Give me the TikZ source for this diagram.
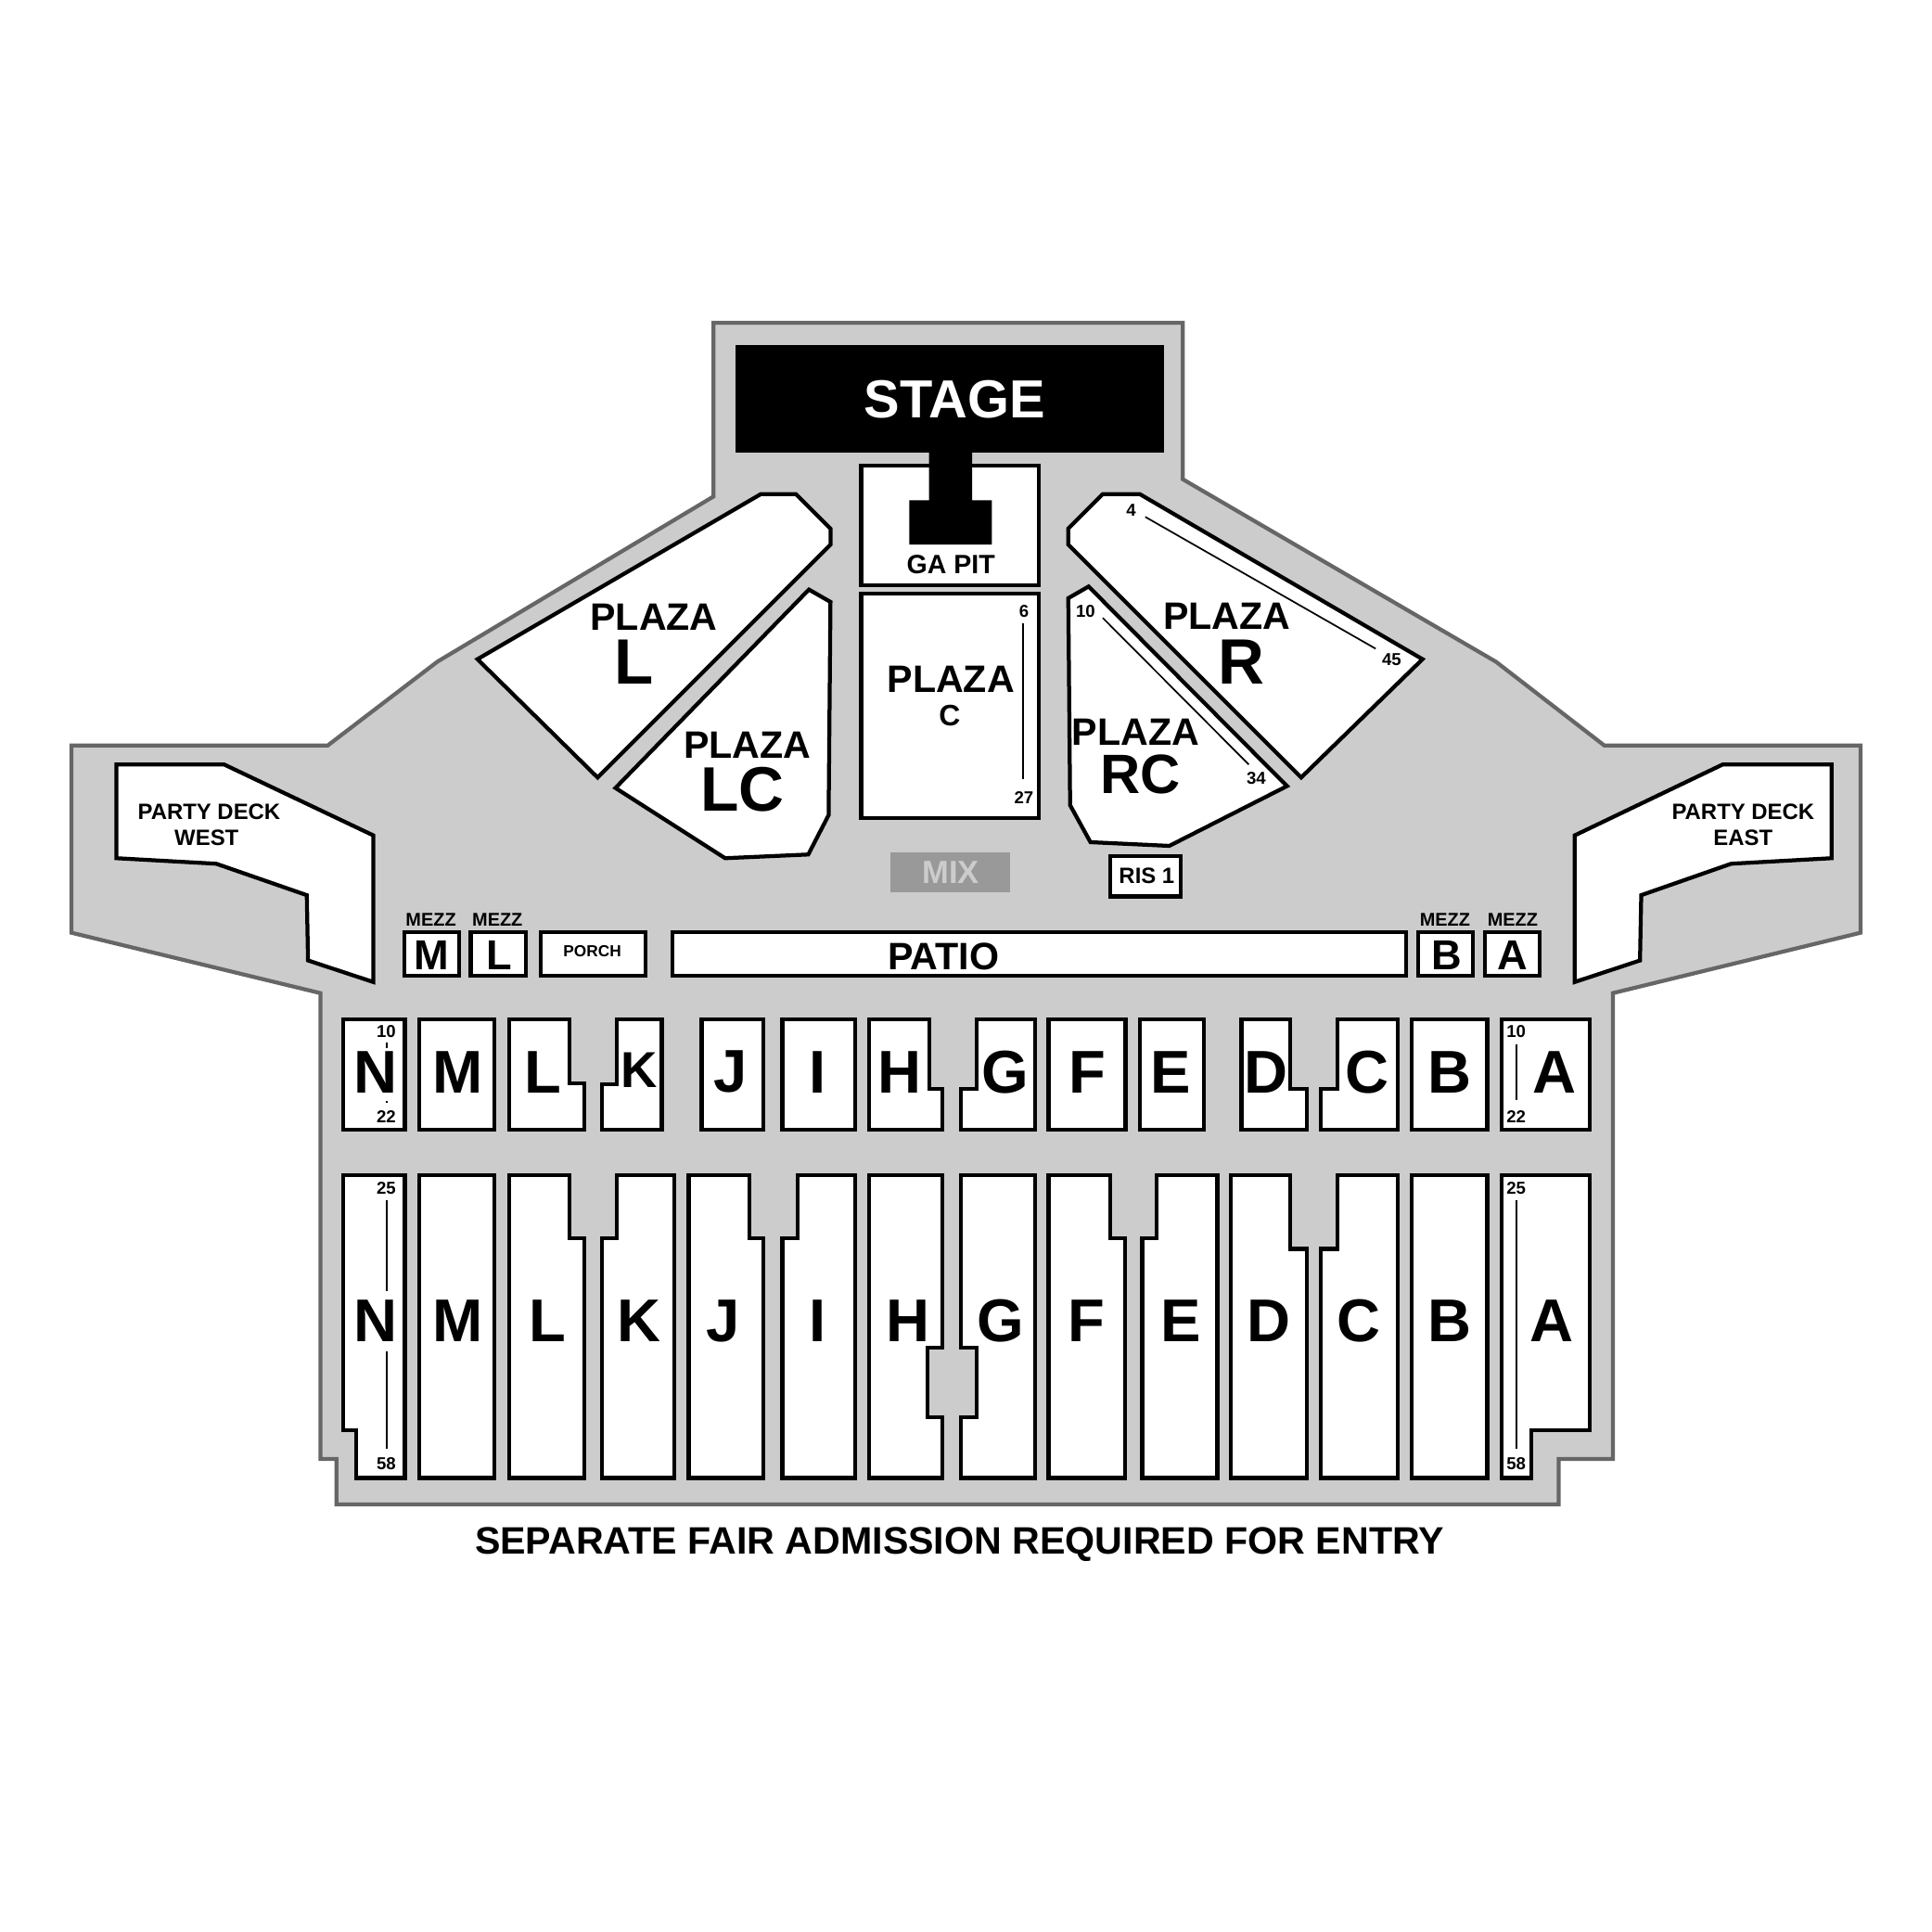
\documentclass[tikz,border=0pt]{standalone}
\usepackage{fontspec}
\setmainfont{Liberation Sans}
\newcommand{\sized}[1]{\fontsize{#1}{#1}\selectfont\bfseries}
\tikzset{
	hall/.style={draw=black!60,fill=black!20,line width=3.2pt},
	seat/.style={draw=black,fill=white,line width=3.2pt},
	rowline/.style={draw=black,line width=1.3pt},
	txt/.style={inner sep=0pt,xshift=0.7pt,font=\sized{#1}},
	num/.style={inner sep=0pt,xshift=0.5pt,font=\sized{14}}
}
\begin{document}
\begin{tikzpicture}[x=1pt,y=-1pt]
	\path[use as bounding box,fill=white] (0,0) rectangle (1568,1568);
	\draw[hall] (579,262) -- (960,262) -- (960,389) -- (1214,537) -- (1302,605) -- (1510,605) -- (1510,757) -- (1309,806) -- (1309,1184) -- (1265,1184) -- (1265,1221) -- (273,1221) -- (273,1184) -- (260,1184) -- (260,806) -- (58,757) -- (58,605) -- (266,605) -- (355,537) -- (579,403) -- cycle;
	\draw[seat] (699,378) rectangle (843,475);
	\draw[seat] (699,482) rectangle (843,664);
	\fill[black] (597,280) rectangle (945,367);
	\fill[black] (754,367) -- (789,367) -- (789,406) -- (805,406) -- (805,442) -- (738,442) -- (738,406) -- (754,406) -- cycle;
	\fill[black!40] (723,692) rectangle (820,724);
	\draw[seat] (617.5,401) -- (646,401) -- (674,429) -- (674,442) -- (485,631) -- (387.5,535) -- cycle;
	\draw[seat] (656.5,478.5) -- (674,488.5) -- (672.5,661.5) -- (656,693.5) -- (588.5,696.5) -- (499.5,639.5) -- cycle;
	\draw[seat] (895,401) -- (925,401) -- (1154.5,535) -- (1056,631) -- (867,442) -- (867,429) -- cycle;
	\draw[seat] (883.5,476) -- (1044.5,638) -- (949,686.5) -- (885,683.5) -- (868.5,653.5) -- (867,485.5) -- cycle;
	\draw[seat] (94.5,620.5) -- (182,620.5) -- (303,678) -- (303,797) -- (250,779.5) -- (249,726.5) -- (175.5,701) -- (94.5,696.5) -- cycle;
	\draw[seat] (1398,620.5) -- (1486.5,620.5) -- (1486.5,696.5) -- (1405,701) -- (1332,726.5) -- (1331,779.5) -- (1278,797) -- (1278,678) -- cycle;
	\draw[seat] (901,695) rectangle (958,727.5);
	\draw[seat] (328,756.5) rectangle (372.5,792);
	\draw[seat] (382,756.5) rectangle (427,792);
	\draw[seat] (439,756.5) rectangle (524,792);
	\draw[seat] (545.5,756.5) rectangle (1141,792);
	\draw[seat] (1151,756.5) rectangle (1195.5,792);
	\draw[seat] (1205,756.5) rectangle (1249.5,792);
	\draw[rowline] (929.5,419.5) -- (1116.5,526.5);
	\draw[rowline] (895,501.5) -- (1013.5,620.5);
	\draw[rowline] (830.5,506) -- (830.5,632.5);
	\draw[seat] (278.5,827) rectangle (328.5,917);
	\draw[seat] (340,827) rectangle (401,917);
	\draw[seat] (413,827) -- (462,827) -- (462,879) -- (474,879) -- (474,917) -- (413,917) -- cycle;
	\draw[seat] (500.5,827) -- (537,827) -- (537,917) -- (488.5,917) -- (488.5,880) -- (500.5,880) -- cycle;
	\draw[seat] (569.5,827) rectangle (619.5,917);
	\draw[seat] (635,827) rectangle (694,917);
	\draw[seat] (705.5,827) -- (754,827) -- (754,884) -- (765,884) -- (765,917) -- (705.5,917) -- cycle;
	\draw[seat] (792.5,827) -- (840,827) -- (840,917) -- (780,917) -- (780,884) -- (792.5,884) -- cycle;
	\draw[seat] (851,827) rectangle (913.5,917);
	\draw[seat] (925,827) rectangle (977,917);
	\draw[seat] (1007.5,827) -- (1047,827) -- (1047,884) -- (1060.5,884) -- (1060.5,917) -- (1007.5,917) -- cycle;
	\draw[seat] (1085.5,827) -- (1134.5,827) -- (1134.5,917) -- (1072,917) -- (1072,884) -- (1085.5,884) -- cycle;
	\draw[seat] (1145.5,827) rectangle (1207,917);
	\draw[seat] (1218.5,827) rectangle (1290,917);
	\draw[seat] (278.5,953.5) -- (328.5,953.5) -- (328.5,1199.5) -- (289,1199.5) -- (289,1161) -- (278.5,1161) -- cycle;
	\draw[seat] (340,953.5) rectangle (401,1199.5);
	\draw[seat] (413,953.5) -- (462,953.5) -- (462,1005) -- (474,1005) -- (474,1199.5) -- (413,1199.5) -- cycle;
	\draw[seat] (500.5,953.5) -- (547.5,953.5) -- (547.5,1199.5) -- (488.5,1199.5) -- (488.5,1005) -- (500.5,1005) -- cycle;
	\draw[seat] (559,953.5) -- (608,953.5) -- (608,1005) -- (619.5,1005) -- (619.5,1199.5) -- (559,1199.5) -- cycle;
	\draw[seat] (647.5,953.5) -- (694,953.5) -- (694,1199.5) -- (635,1199.5) -- (635,1005) -- (647.5,1005) -- cycle;
	\draw[seat] (705.5,953.5) -- (765,953.5) -- (765,1094) -- (753,1094) -- (753,1150) -- (765,1150) -- (765,1199.5) -- (705.5,1199.5) -- cycle;
	\draw[seat] (780,953.5) -- (840,953.5) -- (840,1199.5) -- (780,1199.5) -- (780,1150) -- (792.5,1150) -- (792.5,1094) -- (780,1094) -- cycle;
	\draw[seat] (851,953.5) -- (901,953.5) -- (901,1005) -- (913,1005) -- (913,1199.5) -- (851,1199.5) -- cycle;
	\draw[seat] (938.5,953.5) -- (988,953.5) -- (988,1199.5) -- (927,1199.5) -- (927,1005) -- (938.5,1005) -- cycle;
	\draw[seat] (999,953.5) -- (1047,953.5) -- (1047,1013.5) -- (1060.5,1013.5) -- (1060.5,1199.5) -- (999,1199.5) -- cycle;
	\draw[seat] (1085.5,953.5) -- (1134.5,953.5) -- (1134.5,1199.5) -- (1072,1199.5) -- (1072,1013.5) -- (1085.5,1013.5) -- cycle;
	\draw[seat] (1145.5,953.5) rectangle (1207,1199.5);
	\draw[seat] (1218.5,953.5) -- (1290,953.5) -- (1290,1161) -- (1243,1161) -- (1243,1199.5) -- (1218.5,1199.5) -- cycle;
	\draw[rowline] (314,846) -- (314,850.5);
	\draw[rowline] (314,893.5) -- (314,895);
	\draw[rowline] (314,974) -- (314,1047.5);
	\draw[rowline] (314,1097) -- (314,1175.5);
	\draw[rowline] (1231,847.5) -- (1231,893);
	\draw[rowline] (1231,974) -- (1231,1175.5);
	\node (Stage) at (774,324) [txt=43.5,white] {STAGE};
	\node (Pit) at (771,458) [txt=21.5] {GA PIT};
	\node (Pc) at (771,551) [txt=31] {PLAZA};
	\node (PcC) at (770,581) [txt=24] {C};
	\node (Pl) at (530,501) [txt=31] {PLAZA};
	\node (PlL) at (514,537) [txt=52] {L};
	\node (Plc) at (606,605) [txt=31] {PLAZA};
	\node (PlcL) at (602,641) [txt=51] {LC};
	\node (Pr) at (995,500) [txt=31] {PLAZA};
	\node (PrR) at (1007,537) [txt=52] {R};
	\node (Prc) at (921,594) [txt=31] {PLAZA};
	\node (PrcR) at (925,628.5) [txt=45] {RC};
	\node (West) at (169,658.5) [txt=18] {PARTY DECK};
	\node (WestB) at (167,680) [txt=18] {WEST};
	\node (East) at (1414,658.5) [txt=18] {PARTY DECK};
	\node (EastB) at (1414,680) [txt=18] {EAST};
	\node (Mix) at (771,708) [txt=26,black!20] {MIX};
	\node (Ris) at (930,711) [txt=18] {RIS 1};
	\node (Porch) at (480,772) [txt=13] {PORCH};
	\node (Patio) at (765,776) [txt=31] {PATIO};
	\node (MzM) at (349,746.5) [txt=15] {MEZZ};
	\node (MzL) at (403,746.5) [txt=15] {MEZZ};
	\node (MzB) at (1172,746.5) [txt=15] {MEZZ};
	\node (MzA) at (1227,746.5) [txt=15] {MEZZ};
	\node (MzMl) at (349.5,775.5) [txt=34] {M};
	\node (MzLl) at (404.5,775.5) [txt=34] {L};
	\node (MzBl) at (1173.5,775.5) [txt=34] {B};
	\node (MzAl) at (1227,775.5) [txt=34] {A};
	\node (R4) at (917.5,414) [num] {4};
	\node (R45) at (1129,535) [num] {45};
	\node (Rc10) at (880.5,496) [num] {10};
	\node (Rc34) at (1019,632) [num] {34};
	\node (C6) at (830.5,496) [num] {6};
	\node (C27) at (830.5,647) [num] {27};
	\node (Na) at (313,837) [num] {10};
	\node (Nb) at (313,906) [num] {22};
	\node (Nc) at (313,964) [num] {25};
	\node (Nd) at (313,1188) [num] {58};
	\node (Aa) at (1230,837) [num] {10};
	\node (Ab) at (1230,906) [num] {22};
	\node (Ac) at (1230,964) [num] {25};
	\node (Ad) at (1230,1188) [num] {58};
	\node (N1) at (304,870) [txt=49] {N};
	\node (M1) at (370.5,870) [txt=49] {M};
	\node (L1) at (440,870) [txt=49] {L};
	\node (K1) at (518,868.5) [txt=41] {K};
	\node (J1) at (592.5,870) [txt=49] {J};
	\node (I1) at (663,870) [txt=49] {I};
	\node (H1) at (729.5,870) [txt=49] {H};
	\node (G1) at (815,870) [txt=49] {G};
	\node (F1) at (882,870) [txt=49] {F};
	\node (E1) at (949.5,870) [txt=49] {E};
	\node (D1) at (1027,870) [txt=49] {D};
	\node (C1) at (1109,870) [txt=49] {C};
	\node (B1) at (1176,870) [txt=49] {B};
	\node (A1) at (1261,870) [txt=49] {A};
	\node (N2) at (304,1072) [txt=49] {N};
	\node (M2) at (370.5,1072) [txt=49] {M};
	\node (L2) at (443.5,1072) [txt=49] {L};
	\node (K2) at (518,1072) [txt=49] {K};
	\node (J2) at (586,1072) [txt=49] {J};
	\node (I2) at (663,1072) [txt=49] {I};
	\node (H2) at (736,1072) [txt=49] {H};
	\node (G2) at (811.5,1072) [txt=49] {G};
	\node (F2) at (881,1072) [txt=49] {F};
	\node (E2) at (957.5,1072) [txt=49] {E};
	\node (D2) at (1029,1072) [txt=49] {D};
	\node (C2) at (1102,1072) [txt=49] {C};
	\node (B2) at (1176,1072) [txt=49] {B};
	\node (A2) at (1259,1072) [txt=49] {A};
	\node (Fair) at (778,1253.5) [txt=31] {SEPARATE FAIR ADMISSION REQUIRED FOR ENTRY};
\end{tikzpicture}
\end{document}
